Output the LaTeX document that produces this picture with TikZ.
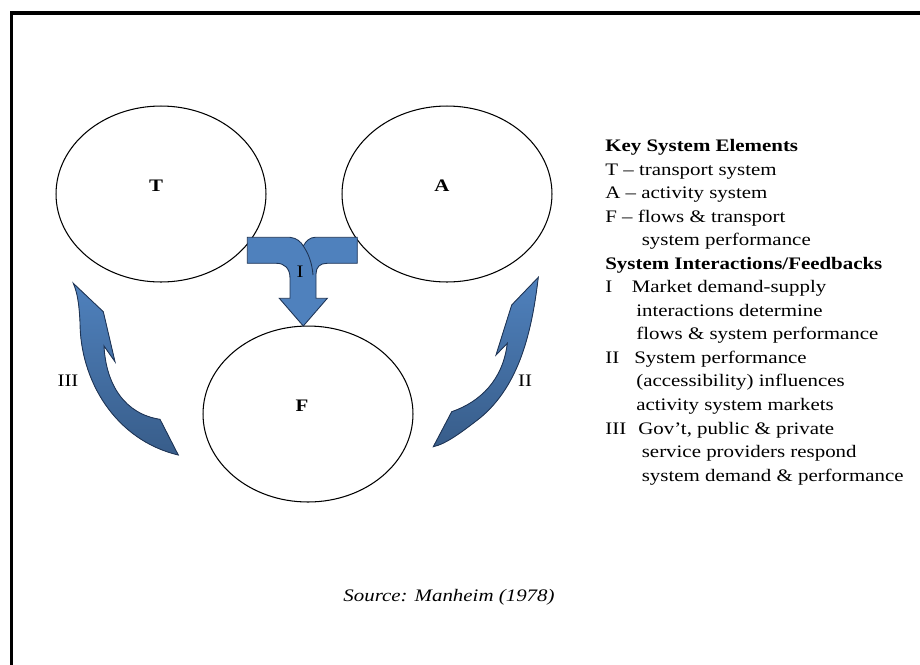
\documentclass[tikz,border=0pt]{standalone}
\usepackage{fontspec}
\setmainfont{Liberation Serif}[FakeStretch=1.19]
\usepackage{tikz}
\usetikzlibrary{shapes.geometric}
\definecolor{arrblue}{HTML}{4F81BD}
\definecolor{arrdark}{HTML}{385D8A}
\definecolor{arredge}{HTML}{1F3556}

\begin{document}
\begin{tikzpicture}[
    x=0.02cm, y=-0.02cm,
    sysel/.style={draw, ellipse, minimum width=4.2cm, minimum height=3.52cm, inner sep=0pt, line width=0.6pt},
    lbl/.style={font=\fontsize{10}{12}\selectfont\bfseries, inner sep=0pt},
    fblbl/.style={font=\fontsize{10}{12}\selectfont, inner sep=0pt},
    fb/.style={draw=arredge, line width=0.5pt, top color=arrblue, bottom color=arrdark},
    keytxt/.style={font=\fontsize{10}{13.4}\selectfont, align=left, inner sep=0pt}
]
\useasboundingbox (0,0) rectangle (920,664);
\draw[line width=2pt] (11.3,670) -- (11.3,13) -- (926,13);

\node[sysel] (T) at (161,194) {};
\node[sysel] (A) at (447,194) {};
\node[sysel] (F) at (308,414) {};
\node[lbl] (Tl) at (156,186) {T};
\node[lbl] (Al) at (442,186) {A};
\node[lbl] (Fl) at (302,406) {F};

\filldraw[draw=arredge, line width=0.5pt, fill=arrblue] (247.3,237.3) -- (290,237.3)
    .. controls (297,238) and (301,242) .. (303.3,246)
    .. controls (306,241) and (310,237.3) .. (315,237.3) -- (357.3,237.3) -- (357.3,263.3) -- (327,263.3)
    .. controls (320,263.3) and (316,267) .. (316,274) -- (316,298.3) -- (327.3,298.3) -- (303.3,326)
    -- (279.3,298.3) -- (290,298.3) -- (290,278)
    .. controls (290,268) and (284,263.3) .. (276.7,263.3) -- (247.3,263.3) -- cycle;
\draw[draw=arredge, line width=0.5pt] (303.3,246) .. controls (308,253) and (312,262) .. (313,275);
\node[fblbl] (I) at (300,272) {I};

\filldraw[fb] (73.3,283.3) -- (103.3,311.7) -- (115,361.7) -- (104,346)
    .. controls (106,385) and (125,414) .. (160,419.3) -- (178.3,455)
    .. controls (115,440) and (80,380) .. (80,322)
    .. controls (79,302) and (77,292) .. (73.3,283.3) -- cycle;
\node[fblbl] (III) at (68,381) {III};

\filldraw[fb] (538.3,277.3) .. controls (532,330) and (520,385) .. (480,418)
    .. controls (462,432) and (446,444) .. (433.3,446.7) -- (451.7,411.7)
    .. controls (480,402) and (503,380) .. (507.3,343.3) -- (496,355) -- (511.7,305) -- cycle;
\node[fblbl] (II) at (525,381) {II};

\node[keytxt, anchor=north west] (key) at (605,139) {\textbf{Key System Elements}\\
T – transport system\\
A – activity system\\
F – flows \& transport\\
\hspace*{0.73cm}system performance\\
\textbf{System Interactions/Feedbacks}\\
\makebox[0.53cm][l]{I}Market demand-supply\\
\hspace*{0.62cm}interactions determine\\
\hspace*{0.62cm}flows \& system performance\\
\makebox[0.58cm][l]{II}System performance\\
\hspace*{0.62cm}(accessibility) influences\\
\hspace*{0.62cm}activity system markets\\
\makebox[0.66cm][l]{III}Gov’t, public \& private\\
\hspace*{0.73cm}service providers respond\\
\hspace*{0.73cm}system demand \& performance};

\node[font=\fontsize{10}{12}\selectfont\itshape, inner sep=0pt] (src) at (449,597) {Source: Manheim (1978)};
\end{tikzpicture}
\end{document}
